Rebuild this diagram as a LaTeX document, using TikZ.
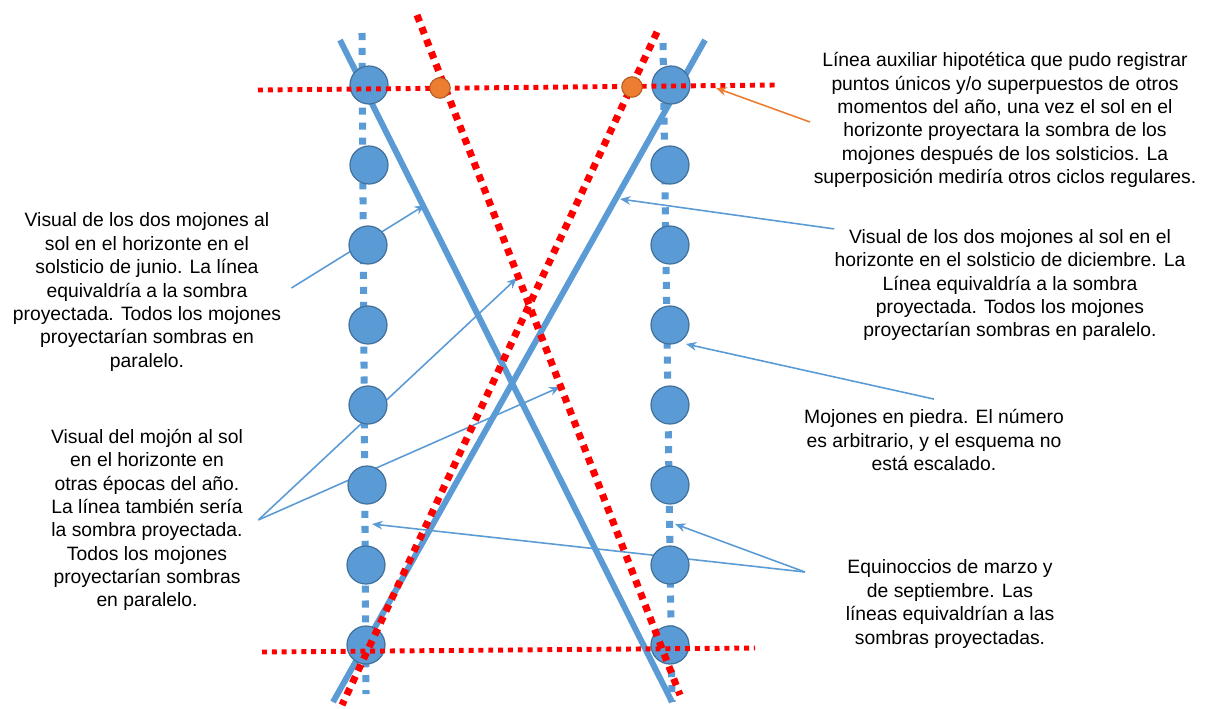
\documentclass[tikz,border=0pt]{standalone}
\usepackage{fontspec}
\setmainfont{Liberation Sans}
\usetikzlibrary{arrows.meta,positioning}
\definecolor{stoneblue}{HTML}{5B9BD5}
\definecolor{stoneedge}{HTML}{41719C}
\definecolor{shadowred}{HTML}{FF0000}
\definecolor{auxorange}{HTML}{ED7D31}
\definecolor{auxedge}{HTML}{AE5A21}

\begin{document}
\begin{tikzpicture}[x=0.02cm,y=-0.02cm,>={Stealth[length=6pt,width=5pt]}]
    \tikzstyle{stone}=[circle,fill=stoneblue,draw=stoneedge,line width=0.7pt,minimum size=0.76cm,inner sep=0pt]
    \tikzstyle{marker}=[circle,fill=auxorange,draw=auxedge,line width=0.6pt,minimum size=0.41cm,inner sep=0pt]
    \tikzstyle{row}=[stoneblue,line width=4pt,dash pattern=on 4pt off 4.5pt]
    \tikzstyle{ray}=[stoneblue,line width=3.4pt]
    \tikzstyle{redray}=[shadowred,line width=4pt,dash pattern=on 4pt off 3.5pt]
    \tikzstyle{redline}=[shadowred,line width=2.8pt,dash pattern=on 2.8pt off 2.8pt]
    \tikzstyle{pointer}=[->,stoneblue,line width=0.9pt]
    \tikzstyle{note}=[align=center,font=\fontsize{11}{13.3}\selectfont,inner sep=0pt]

    \useasboundingbox (0,0) rectangle (1217,708);

    % Dotted lines of the two rows of stones
    \coordinate (LT) at (362,33);
    \coordinate (LB) at (366,694);
    \coordinate (RT) at (663,43);
    \coordinate (RB) at (672,702);
    \draw[row] (LT) -- (LB);
    \draw[row] (RT) -- (RB);

    % Texts
    \node[note] (aux) at (1005,120) {L\'inea auxiliar hipot\'etica que pudo registrar\\puntos \'unicos y/o superpuestos de otros\\momentos del a\~no, una vez el sol en el\\horizonte proyectara la sombra de los\\mojones despu\'es de los solsticios. La\\superposici\'on medir\'ia otros ciclos regulares.};
    \node[note] (june) at (147,292) {Visual de los dos mojones al\\sol en el horizonte en el\\solsticio de junio. La l\'inea\\equivaldr\'ia a la sombra\\proyectada. Todos los mojones\\proyectar\'ian sombras en\\paralelo.};
    \node[note] (other) at (147,520) {Visual del moj\'on al sol\\en el horizonte en\\otras \'epocas del a\~no.\\La l\'inea tambi\'en ser\'ia\\la sombra proyectada.\\Todos los mojones\\proyectar\'ian sombras\\en paralelo.};
    \node[note] (dec) at (1010,285) {Visual de los dos mojones al sol en el\\horizonte en el solsticio de diciembre. La\\L\'inea equivaldr\'ia a la sombra\\proyectada. Todos los mojones\\proyectar\'ian sombras en paralelo.};
    \node[note] (stones) at (934,440) {Mojones en piedra. El n\'umero\\es arbitrario, y el esquema no\\est\'a escalado.};
    \node[note] (equi) at (950,604) {Equinoccios de marzo y\\de septiembre. Las\\l\'ineas equivaldr\'ian a las\\sombras proyectadas.};

    % Arrow ends
    \coordinate (juneTip) at (425,205);
    \coordinate (otherTipA) at (517,278);
    \coordinate (otherTipB) at (560,387);
    \coordinate (decTip) at (620,199);
    \coordinate (stonesTip) at (686,344);
    \coordinate (equiTipL) at (372,524);
    \coordinate (equiTipR) at (675,524);
    \coordinate (equiTail) at (805,572);
    \coordinate (auxTail) at (810,122);
    \coordinate (auxTip) at (716,88);

    % Pointers (behind the stones)
    \draw[pointer] ([xshift=0.2cm,yshift=0.08cm]june.east) -- (juneTip);
    \draw[pointer] ([xshift=0.3cm]other.east) -- (otherTipA);
    \draw[pointer] ([xshift=0.3cm]other.east) -- (otherTipB);
    \draw[pointer] (dec.north west) -- (decTip);
    \draw[pointer] ([yshift=0.2cm]stones.north) -- (stonesTip);
    \draw[pointer] (equiTail) -- (equiTipL);
    \draw[pointer] (equiTail) -- (equiTipR);

    % Solstice lines
    \coordinate (J1) at (340,40);
    \coordinate (J2) at (672,702);
    \coordinate (D1) at (705,40);
    \coordinate (D2) at (333,702);
    \draw[ray] (J1) -- (J2);
    \draw[ray] (D1) -- (D2);

    % Stones
    \node[stone] (L1) at (369,85) {};
    \node[stone] (L2) at (369,165) {};
    \node[stone] (L3) at (368,245) {};
    \node[stone] (L4) at (368,325) {};
    \node[stone] (L5) at (368,405) {};
    \node[stone] (L6) at (367,485) {};
    \node[stone] (L7) at (366,565) {};
    \node[stone] (L8) at (366,645) {};
    \node[stone] (R1) at (671,85) {};
    \node[stone] (R2) at (670,165) {};
    \node[stone] (R3) at (670,245) {};
    \node[stone] (R4) at (670,325) {};
    \node[stone] (R5) at (670,405) {};
    \node[stone] (R6) at (670,485) {};
    \node[stone] (R7) at (670,565) {};
    \node[stone] (R8) at (670,645) {};

    % Red shadow lines
    \coordinate (HT1) at (258,90);
    \coordinate (HT2) at (775,85);
    \coordinate (HB1) at (262,652);
    \coordinate (HB2) at (755,648);
    \coordinate (A1) at (417,15);
    \coordinate (A2) at (680,695);
    \coordinate (B1) at (657,32);
    \coordinate (B2) at (342,705);
    \draw[redline] (HT1) -- (HT2);
    \draw[redline] (HB1) -- (HB2);
    \draw[redray] (A1) -- (A2);
    \draw[redray] (B1) -- (B2);

    % Auxiliary points
    \node[marker] (O1) at (440,88) {};
    \node[marker] (O2) at (632,87) {};
    \draw[->,auxorange,line width=0.9pt] (auxTail) -- (auxTip);
\end{tikzpicture}
\end{document}
